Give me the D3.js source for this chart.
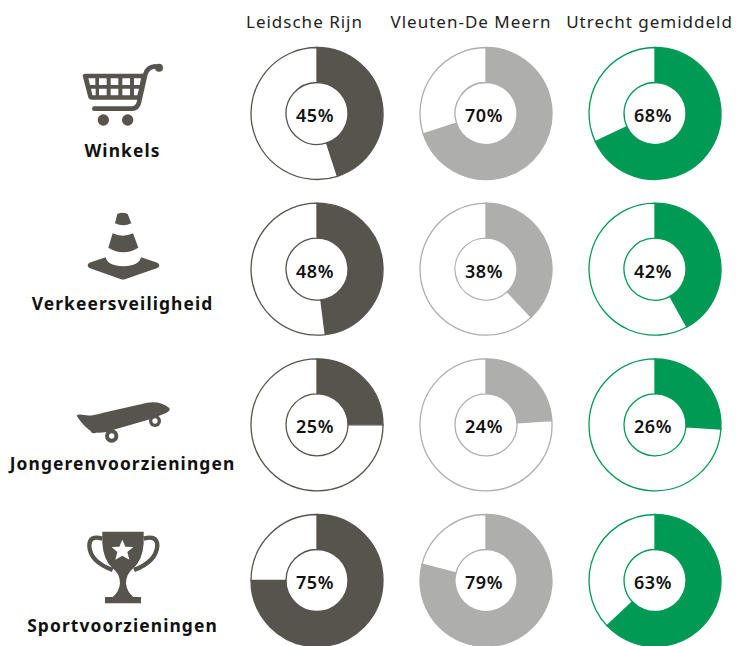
<!DOCTYPE html>
<html><head><meta charset="utf-8">
<script src="https://cdn.jsdelivr.net/npm/d3@7/dist/d3.min.js"></script>
<style>html,body{margin:0;padding:0;background:#fff}svg{display:block}text{font-family:"Noto Sans",sans-serif}</style>
</head><body><svg id="c" width="736" height="646"></svg>
<script>
const areas = ["Leidsche Rijn","Vleuten-De Meern","Utrecht gemiddeld"];
const topics = ["Winkels","Verkeersveiligheid","Jongerenvoorzieningen","Sportvoorzieningen"];
const leidscheRijn = [45,48,25,75];
const vleutenDeMeern = [70,38,24,79];
const utrechtGemiddeld = [68,42,26,63];
const colors = ["#57534d","#aeaeac","#009a54"];
const seriesValues = [leidscheRijn,vleutenDeMeern,utrechtGemiddeld];

const svg = d3.select("#c");
const x = d3.scalePoint().domain(areas).range([317,655]);
const y = d3.scalePoint().domain(topics).range([113.5,580.5]);
const iconColor = "#57534d";
const arc = d3.arc().innerRadius(31).outerRadius(66);
const pie = d3.pie().sort(null).value(d=>d);

const headCenter = [304.5,471,649.5];
svg.selectAll("text.head").data(areas).join("text").attr("class","head")
  .attr("x",(d,i)=>headCenter[i]).attr("y",28).attr("text-anchor","middle")
  .attr("font-size",17).attr("letter-spacing",1).attr("fill","#222").text(d=>d);

const labelY = [157,310,470,632];
svg.selectAll("text.topic").data(topics).join("text").attr("class","topic")
  .attr("x",122.5).attr("y",(d,i)=>labelY[i]).attr("text-anchor","middle")
  .attr("font-size",17.4).attr("font-weight",700).attr("letter-spacing",1.1).attr("fill","#111").text(d=>d);

areas.forEach((a,ai)=>{
  topics.forEach((t,ti)=>{
    const v = seriesValues[ai][ti];
    const g = svg.append("g").attr("transform",`translate(${x(a)},${y(t)})`);
    const arcs = pie([v,100-v]);
    g.selectAll("path").data(arcs).join("path").attr("d",arc)
      .attr("fill",(d,i)=>i===0?colors[ai]:"#fff")
      .attr("stroke",colors[ai]).attr("stroke-width",1.3);
    g.append("text").attr("y",8.5).attr("text-anchor","middle").attr("x",-2)
      .attr("font-size",18).attr("font-weight",600).attr("letter-spacing",0.6).attr("fill","#111").text(v+"%");
  });
});

function icon(ox,oy){return svg.append("g").attr("transform",`translate(${ox},${oy}) scale(${1/3})`).attr("fill",iconColor);}
// cart
const cart = icon(70,55);
cart.append("path").attr("fill-rule","evenodd").attr("d","M38 62Q38 56 46 56H226L208 134H64Q56 134 54 124ZM55 70L60 90H76V70ZM87 70V90H110V70ZM122 70V90H145V70ZM157 70V90H180V70ZM192 70V90H209L213 70ZM63 101L67 121H77V101ZM87 101V121H110V101ZM122 101V121H145V101ZM157 101V121H180V101ZM192 101V121H202L207 101Z");
cart.append("path").attr("fill","none").attr("stroke",iconColor).attr("stroke-width",14).attr("stroke-linecap","round")
  .attr("d","M73 161H185Q203 161 207 142L226 58Q232 36 255 34");
cart.append("circle").attr("cx",267).attr("cy",38).attr("r",12);
cart.append("circle").attr("cx",100).attr("cy",195).attr("r",17);
cart.append("circle").attr("cx",173).attr("cy",195).attr("r",17);
// cone
const cone = icon(60,200);
cone.append("path").attr("d","M172 42Q188 35 203 42L214 70Q190 82 165 70Z");
cone.append("path").attr("d","M158 100Q188 114 219 100L235 143Q190 170 145 143Z");
cone.append("path").attr("d","M88 188L137 172Q142 197 190 199Q238 197 243 172L292 188Q304 196 292 204L197 237Q189 240 181 237L88 204Q78 196 88 188Z");
// skateboard
const sk = icon(60,390);
sk.append("path").attr("d","M50 77Q54 71 72 75Q92 80 130 68L262 38Q302 32 328 54Q332 62 320 68L275 86L135 127Q100 132 85 118Q62 97 50 77Z");
[[155,138,20,8],[285,93,18,8]].forEach(w=>{
  sk.append("circle").attr("cx",w[0]).attr("cy",w[1]).attr("r",w[2]);
  sk.append("circle").attr("cx",w[0]).attr("cy",w[1]).attr("r",w[3]).attr("fill","#fff");
});
sk.append("circle").attr("cx",102).attr("cy",120).attr("r",10);
// trophy
const tr = icon(70,520);
tr.append("path").attr("d","M97 35H221V70Q218 120 190 145Q168 162 168 190Q170 215 190 231H213V250H105V231H128Q148 215 150 190Q150 162 128 145Q100 120 97 70Z");
tr.append("path").attr("fill","none").attr("stroke",iconColor).attr("stroke-width",13)
  .attr("d","M97 56Q58 44 58 78Q60 125 128 150M221 56Q262 44 262 78Q258 125 192 150");
tr.append("path").attr("fill","#fff").attr("d","M157 59L166 80L190 81L172 96L178 119L157 107L136 119L142 96L125 81L148 80Z");
</script></body></html>
